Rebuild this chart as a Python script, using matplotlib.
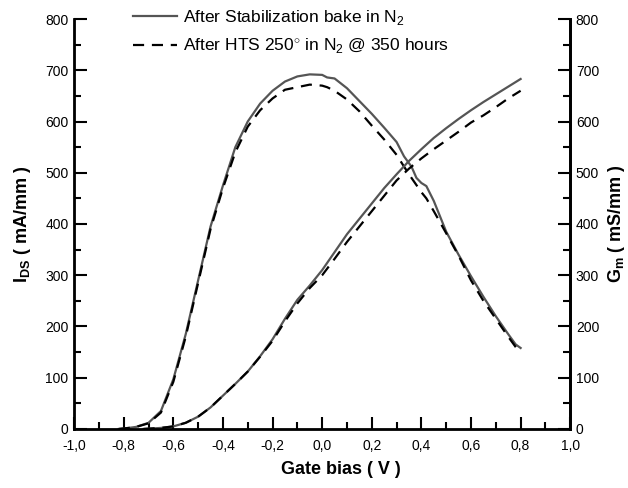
import matplotlib
matplotlib.use("Agg")
import matplotlib.pyplot as plt
from matplotlib.ticker import MultipleLocator, FuncFormatter

# Gate bias points (V) and curves
gm_bias = [-0.82, -0.78, -0.75, -0.70, -0.65, -0.60, -0.55, -0.50, -0.45, -0.40,
           -0.35, -0.30, -0.25, -0.20, -0.15, -0.10, -0.05, 0.00, 0.02, 0.05,
           0.10, 0.15, 0.20, 0.25, 0.30, 0.33, 0.36, 0.38, 0.40, 0.42,
           0.45, 0.50, 0.55, 0.60, 0.65, 0.70, 0.75, 0.78, 0.80]
gm_stab = [0, 2, 4, 12, 35, 97, 185, 290, 395, 475,
           550, 600, 635, 660, 678, 688, 692, 691, 686, 684,
           665, 640, 615, 588, 560, 532, 512, 490, 480, 474,
           445, 385, 340, 298, 258, 220, 185, 165, 158]
gm_hts = [0, 2, 4, 11, 32, 92, 180, 285, 390, 470,
          540, 590, 622, 645, 662, 667, 672, 670, 667, 660,
          643, 620, 592, 565, 535, 512, 490, 476, 462, 450,
          425, 382, 338, 290, 250, 215, 180, 160, 148]

ids_bias = [-0.72, -0.65, -0.60, -0.55, -0.50, -0.45, -0.40, -0.35, -0.30, -0.25,
            -0.20, -0.15, -0.10, -0.05, 0.00, 0.05, 0.10, 0.15, 0.20, 0.25,
            0.30, 0.35, 0.40, 0.45, 0.50, 0.55, 0.60, 0.65, 0.70, 0.75, 0.80]
ids_stab = [0, 2, 5, 12, 24, 42, 65, 88, 112, 142,
            175, 215, 252, 280, 310, 345, 380, 410, 440, 470,
            497, 523, 546, 568, 587, 605, 622, 638, 653, 668, 683]
ids_hts = [0, 2, 5, 12, 24, 42, 65, 88, 112, 141,
           172, 210, 245, 275, 300, 332, 365, 395, 425, 455,
           485, 508, 528, 546, 563, 580, 598, 612, 628, 645, 660]

plt.rcParams['font.family'] = ['Liberation Sans', 'DejaVu Sans']
plt.rcParams['mathtext.fontset'] = 'custom'
plt.rcParams['mathtext.rm'] = 'Liberation Sans'
plt.rcParams['mathtext.bf'] = 'Liberation Sans:bold'

fig = plt.figure(figsize=(6.28, 4.88), dpi=100)
ax = fig.add_axes([0.118, 0.121, 0.790, 0.840])

solid_col = '#555555'
dash = (0, (5, 3.5))
ax.plot(gm_bias, gm_stab, color=solid_col, lw=1.6,
        label='After Stabilization bake in N$_2$')
ax.plot(gm_bias, gm_hts, color='black', lw=1.6, ls=dash,
        label='After HTS 250$^{\\circ}$ in N$_2$ @ 350 hours')
ax.plot(ids_bias, ids_stab, color=solid_col, lw=1.6)
ax.plot(ids_bias, ids_hts, color='black', lw=1.6, ls=dash)

ax.set_xlim(-1.0, 1.0)
ax.set_ylim(0, 800)
ax.xaxis.set_major_locator(MultipleLocator(0.2))
ax.xaxis.set_minor_locator(MultipleLocator(0.1))
ax.yaxis.set_major_locator(MultipleLocator(100))
ax.yaxis.set_minor_locator(MultipleLocator(50))
ax.xaxis.set_major_formatter(FuncFormatter(
    lambda v, p: f"{v:.1f}".replace('.', ',').replace('-0,0', '0,0')))

for s in ['left', 'bottom', 'right']:
    ax.spines[s].set_linewidth(2)
ax.spines['top'].set_visible(False)

ax.tick_params(which='both', direction='in', width=1.5, labelsize=10, top=False)
ax.tick_params(which='major', length=9, pad=4)
ax.tick_params(which='minor', length=5)
ax.tick_params(axis='x', which='major', pad=7)

ax2 = ax.twinx()
ax2.set_ylim(0, 800)
ax2.yaxis.set_major_locator(MultipleLocator(100))
ax2.yaxis.set_minor_locator(MultipleLocator(50))
ax2.spines['right'].set_linewidth(2)
ax2.spines['top'].set_visible(False)
ax2.tick_params(which='both', direction='in', width=1.5, labelsize=10)
ax2.tick_params(which='major', length=9, pad=4)
ax2.tick_params(which='minor', length=5)

ax.set_xlabel('Gate bias ( V )', fontsize=13, fontweight='bold')
ax.xaxis.set_label_coords(0.538, -0.078)
ax.set_ylabel(r'$\mathbf{I_{DS}}$ ( mA/mm )', fontsize=13, fontweight='bold', labelpad=9)
ax2.set_ylabel(r'$\mathbf{G_{m}}$ ( mS/mm )', fontsize=13, fontweight='bold', labelpad=5)

ax.legend(loc='upper left', bbox_to_anchor=(0.119, 1.027), frameon=False,
          fontsize=12.5, handlelength=2.5, handletextpad=0.35, labelspacing=0.55,
          borderaxespad=0, borderpad=0)

fig.savefig('out.png', dpi=100)
